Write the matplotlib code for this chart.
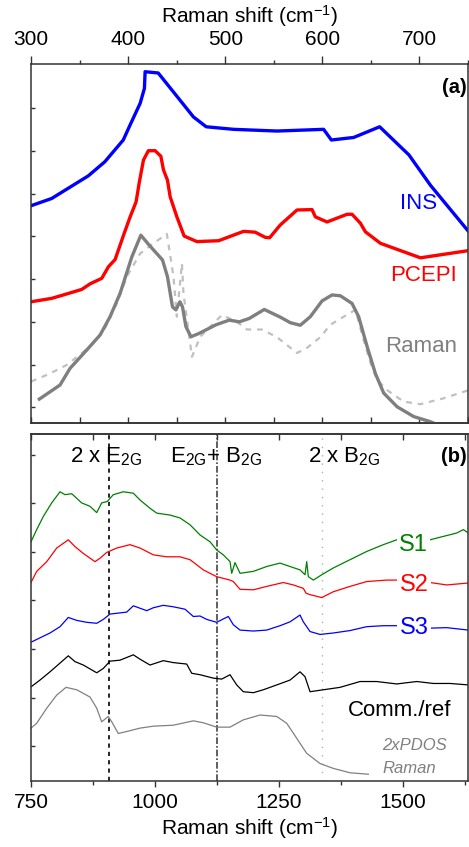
import matplotlib
matplotlib.use("Agg")
import matplotlib.pyplot as plt
import numpy as np

plt.rcParams.update({
    "font.family": ["Liberation Sans", "DejaVu Sans"],
    "mathtext.fontset": "custom",
    "mathtext.rm": "Liberation Sans",
    "mathtext.it": "Liberation Sans:italic",
    "mathtext.bf": "Liberation Sans:bold",
    "mathtext.default": "regular",
})

# ---------------- panel (a): low-frequency spectra (offset, arb. units) ----------------
ins_x = [300, 321.3, 359, 376, 395, 402, 412.4, 416.8, 417.5, 431, 467.3, 480.4,
         508.6, 553.3, 601.3, 609.3, 632.3, 659, 689.2, 711.3, 750.8]
ins_y = [5.09, 5.26, 5.79, 6.12, 6.63, 6.98, 7.49, 7.84, 8.23, 8.20, 7.17, 6.94,
         6.88, 6.84, 6.88, 6.63, 6.69, 6.94, 6.28, 5.57, 4.48]

pcepi_x = [300, 321.3, 333.3, 352.3, 360.8, 372.9, 379.7, 386.6, 395.9, 402.1, 408.2,
           411.6, 415.8, 420.9, 427.8, 433.7, 436.4, 440.5, 443.3, 450.2, 457.7, 470.8,
           493.1, 518.9, 530.9, 541.2, 545.7, 556.7, 573.9, 589.4, 592.8, 604.8, 625.5,
           630.6, 639.2, 644.3, 659.8, 701, 750.8]
pcepi_y = [2.84, 2.92, 3.00, 3.13, 3.26, 3.39, 3.66, 3.83, 4.44, 4.83, 5.18,
           5.65, 6.16, 6.38, 6.38, 6.25, 5.93, 5.69, 5.30, 4.83, 4.38, 4.25,
           4.27, 4.49, 4.47, 4.35, 4.34, 4.64, 4.99, 5.00, 4.83, 4.71, 4.89,
           4.89, 4.68, 4.48, 4.21, 3.87, 4.04]

raman_x = [308.6, 319.6, 329.9, 340.2, 357.4, 371.1, 381.4, 391.8, 403.8, 413.1, 421.6,
           435.4, 440.5, 445.7, 449.2, 453.3, 456, 459.5, 464.7, 473.2, 490.4, 504.1,
           514.5, 524.8, 540.2, 556.7, 567, 577.3, 587.6, 599.7, 610, 618.6,
           630.6, 637.4, 646.1, 654.6, 663.2, 677, 694.1, 711.3, 714.4]
raman_y = [0.56, 0.73, 0.89, 1.28, 1.71, 2.06, 2.49, 3.04, 3.89, 4.40, 4.17,
           3.82, 3.43, 2.72, 2.65, 2.84, 2.72, 2.26, 2.02, 2.10, 2.30, 2.41,
           2.37, 2.45, 2.66, 2.48, 2.35, 2.29, 2.49, 2.86, 3.00, 2.98,
           2.80, 2.49, 1.79, 1.16, 0.70, 0.38, 0.15, 0.03, 0.0]

calc_x = [300, 319.6, 336.8, 360.8, 374.5, 388.4, 398.7, 412.4, 426.1, 439.9, 446.7,
          450.2, 455.4, 457, 465.7, 474.2, 496.6, 512, 522.4, 537.8, 553.3, 573.9, 584.2,
          597.9, 608.2, 622, 634, 642.6, 649.5, 656.4, 666.7, 683.8, 701, 725, 750.8]
calc_y = [0.97, 1.16, 1.36, 1.79, 2.14, 2.80, 3.43, 3.97, 4.21, 4.43, 3.43,
          2.49, 3.74, 3.04, 1.55, 2.02, 2.53, 2.37, 2.19, 2.19, 2.01, 1.64, 1.76,
          2.01, 2.30, 2.49, 2.65, 1.94, 1.41, 1.01, 0.77, 0.50, 0.44, 0.58, 0.77]

# ---------------- panel (b): second-order region ----------------
s1_x = [750, 761.5, 774.8, 791.7, 808.5, 818.5, 832.1, 852.2, 869, 882.5, 892.5, 903.8,
        915.9, 936.1, 956.3, 969.8, 989.9, 1003.4, 1030.2, 1050.4, 1070.6, 1090.7,
        1110.9, 1124.4, 1137.7, 1151.2, 1154.6, 1161.3, 1171.4, 1198.2, 1225.2, 1252,
        1272.2, 1292.3, 1302.4, 1305.8, 1309.1, 1319.2, 1336.1, 1359.5, 1393.1, 1426.8,
        1460.3, 1487.3, 1554.4, 1581.3, 1608.3, 1621.6, 1631.7]
s1_y = [4.93, 5.18, 5.45, 5.73, 5.96, 5.90, 5.92, 5.73, 5.66, 5.53, 5.73, 5.76,
        5.90, 5.96, 5.93, 5.79, 5.62, 5.52, 5.48, 5.42, 5.28, 5.07,
        4.93, 4.76, 4.66, 4.52, 4.28, 4.50, 4.28, 4.32, 4.42, 4.49,
        4.42, 4.35, 4.25, 4.52, 4.21, 4.14, 4.25, 4.39, 4.56, 4.73,
        4.87, 4.97, 4.97, 5.04, 5.11, 5.18, 5.11]

s2_x = [750, 761.5, 781.7, 801.8, 825.2, 838.7, 855.4, 879, 889.1, 902.6, 922.8, 949.6,
        969.8, 996.6, 1023.6, 1050.4, 1070.6, 1097.4, 1124.4, 1151.2, 1157.9, 1171.4,
        1198.2, 1225.2, 1258.7, 1278.8, 1299, 1304.4, 1312.5, 1336.1, 1359.5, 1393.1,
        1426.8, 1467.1, 1490.5, 1554.4, 1588.1, 1631.7]
s2_y = [4.09, 4.32, 4.52, 4.80, 4.97, 4.83, 4.69, 4.52, 4.59, 4.71, 4.80, 4.87,
        4.80, 4.66, 4.62, 4.62, 4.56, 4.35, 4.21, 4.14, 4.11, 3.95,
        3.94, 4.01, 4.09, 4.04, 3.97, 3.87, 3.84, 3.78, 3.90, 4.01,
        4.11, 4.14, 4.14, 4.09, 4.04, 4.08]

s3_x = [750, 788.3, 808.5, 825.2, 842.1, 862.3, 882.5, 895.8, 909.3, 942.9, 956.3, 969.8,
        983.3, 996.6, 1016.7, 1036.9, 1060.5, 1077.2, 1090.7, 1104.2, 1124.4, 1137.7,
        1147.8, 1157.9, 1171.4, 1198.2, 1225.2, 1252, 1272.2, 1292.3, 1299, 1312.5,
        1332.7, 1359.5, 1393.1, 1426.8, 1460.3, 1490.5, 1554.4, 1588.1, 1631.7]
s3_y = [2.86, 3.05, 3.18, 3.37, 3.31, 3.27, 3.25, 3.33, 3.44, 3.48, 3.61, 3.56,
        3.51, 3.57, 3.62, 3.59, 3.54, 3.39, 3.40, 3.33, 3.27, 3.34,
        3.39, 3.22, 3.11, 3.09, 3.11, 3.20, 3.28, 3.42, 3.28, 3.08,
        3.02, 3.05, 3.10, 3.18, 3.20, 3.20, 3.15, 3.16, 3.11]

ref_x = [750, 768.1, 788.3, 808.5, 825.2, 838.7, 855.4, 882.5, 895.8, 909.3, 929.4, 956.3,
         969.8, 989.9, 1016.7, 1036.9, 1063.9, 1074, 1090.7, 1117.5, 1134.5, 1151.2,
         1164.7, 1178, 1198.2, 1218.3, 1245.4, 1272.2, 1292.3, 1302.4, 1312.5, 1339.3,
         1373, 1413.3, 1446.9, 1487.3, 1527.6, 1561.1, 1594.8, 1631.7]
ref_y = [1.94, 2.08, 2.25, 2.43, 2.58, 2.46, 2.39, 2.23, 2.32, 2.47, 2.49, 2.60,
         2.51, 2.39, 2.48, 2.44, 2.41, 2.22, 2.19, 2.12, 2.10, 2.19,
         1.98, 1.84, 1.82, 1.88, 1.98, 2.08, 2.25, 2.15, 1.84, 1.88,
         1.93, 2.05, 2.05, 2.00, 2.05, 2.01, 2.01, 1.98]

pdos_x = [750, 761.5, 781.7, 801.8, 820.6, 842.1, 869, 882.5, 892.5, 905.8, 912.7, 926,
          942.9, 969.8, 996.6, 1036.9, 1077.2, 1097.4, 1124.4, 1151.2, 1178, 1211.7,
          1245.4, 1265.5, 1285.7, 1305.8, 1332.7, 1359.5, 1393.1, 1430]
pdos_y = [1.09, 1.19, 1.50, 1.77, 1.93, 1.88, 1.73, 1.50, 1.22, 1.33, 1.22, 0.98,
          1.02, 1.09, 1.13, 1.15, 1.24, 1.20, 1.11, 1.11, 1.26, 1.36,
          1.33, 1.19, 0.88, 0.57, 0.36, 0.26, 0.17, 0.14]

# band assignments (cm^-1)
mode_2e2g = 907
mode_e2g_b2g = 1125
mode_2b2g = 1336

# ---------------- figure ----------------
spine_col = "#333333"
fig = plt.figure(figsize=(4.69, 8.47), dpi=100)
ax_a = fig.add_axes([0.0661, 0.5006, 0.9318, 0.4238])
ax_b = fig.add_axes([0.0661, 0.0779, 0.9318, 0.4097])

for ax in (ax_a, ax_b):
    for sp in ax.spines.values():
        sp.set_color(spine_col)
        sp.set_linewidth(1.1)
    ax.tick_params(axis="y", direction="in", length=3, width=1, colors=spine_col,
                   labelleft=False)

# panel (a)
ax_a.plot(ins_x, ins_y, color="#0000ff", lw=2.4, solid_joinstyle="round")
ax_a.plot(pcepi_x, pcepi_y, color="#ff0000", lw=2.4, solid_joinstyle="round")
ax_a.plot(calc_x, calc_y, color="#c0c0c0", lw=1.6, ls=(0, (2.6, 2.6)))
ax_a.plot(raman_x, raman_y, color="#7f7f7f", lw=2.4, solid_joinstyle="round")

ax_a.set_xlim(300, 750)
ax_a.set_ylim(0, 8.41)
ax_a.set_yticks(np.arange(0.37, 8.0, 1.0))
ax_a.xaxis.tick_top()
ax_a.xaxis.set_label_position("top")
ax_a.set_xticks([300, 400, 500, 600, 700])
ax_a.set_xticks(np.arange(350, 751, 100), minor=True)
ax_a.tick_params(axis="x", which="major", direction="out", length=6, width=1,
                 color=spine_col, labelsize=15, pad=5)
ax_a.tick_params(axis="x", which="minor", direction="out", length=3, width=1,
                 color=spine_col)
ax_a.set_xlabel(r"Raman shift (cm$^{-1}$)", fontsize=15, labelpad=5)

sec_a = ax_a.secondary_xaxis("bottom")
sec_a.set_xticks(np.arange(300, 751, 50))
sec_a.tick_params(direction="in", length=4, width=1, color=spine_col,
                  labelbottom=False)
sec_a.spines["bottom"].set_color(spine_col)
sec_a.spines["bottom"].set_linewidth(1.1)

ax_a.text(749, 7.87, "(a)", ha="right", va="center", fontsize=14.5, fontweight="bold")
ax_a.text(699, 5.14, "INS", ha="center", va="center", fontsize=16, color="#0000ff")
ax_a.text(704, 3.45, "PCEPI", ha="center", va="center", fontsize=16, color="#ff0000")
ax_a.text(702, 1.79, "Raman", ha="center", va="center", fontsize=16, color="#808080")

# panel (b)
ax_b.axvline(mode_2e2g, color="black", lw=1.2, ls=(0, (2.5, 2.5)), zorder=1)
ax_b.axvline(mode_e2g_b2g, color="#444444", lw=1.2, ls=(0, (4, 1.2, 1, 1.2)), zorder=1)
ax_b.axvline(mode_2b2g, color="#b0b0b0", lw=1.0, ls=(0, (1, 5)), zorder=1)

ax_b.plot(s1_x, s1_y, color="#008000", lw=0.9)
ax_b.plot(s2_x, s2_y, color="#ff0000", lw=0.9)
ax_b.plot(s3_x, s3_y, color="#0000ff", lw=0.9)
ax_b.plot(ref_x, ref_y, color="black", lw=0.9)
ax_b.plot(pdos_x, pdos_y, color="#808080", lw=0.9)

ax_b.set_xlim(750, 1631)
ax_b.set_ylim(0, 7.15)
ax_b.set_yticks(np.arange(0.72, 7.0, 1.0))
ax_b.set_xticks([750, 1000, 1250, 1500])
ax_b.set_xticks([875, 1125, 1375, 1625], minor=True)
ax_b.tick_params(axis="x", which="major", direction="out", length=4.5, width=1,
                 color=spine_col, labelsize=15, pad=4)
ax_b.tick_params(axis="x", which="minor", direction="out", length=3, width=1,
                 color=spine_col)
ax_b.set_xlabel(r"Raman shift (cm$^{-1}$)", fontsize=15, labelpad=2)

sec_b = ax_b.secondary_xaxis("top")
sec_b.set_xticks(np.arange(750, 1631, 125))
sec_b.tick_params(direction="in", length=4, width=1, color=spine_col,
                  labeltop=False)
sec_b.spines["top"].set_color(spine_col)
sec_b.spines["top"].set_linewidth(1.1)

white = dict(facecolor="white", edgecolor="none", pad=1.5)
ax_b.text(828.6, 6.69, r"2 x E$_{2G}$", ha="left", va="center", fontsize=16)
ax_b.text(1030, 6.69, r"E$_{2G}$+ B$_{2G}$", ha="left", va="center", fontsize=16)
ax_b.text(1308, 6.69, r"2 x B$_{2G}$", ha="left", va="center", fontsize=16)
ax_b.text(1629, 6.69, "(b)", ha="right", va="center", fontsize=14.5, fontweight="bold")
ax_b.text(1521, 4.87, "S1", ha="center", va="center", fontsize=17, color="#008000", bbox=white)
ax_b.text(1522, 4.04, "S2", ha="center", va="center", fontsize=17, color="#ff0000", bbox=white)
ax_b.text(1522, 3.15, "S3", ha="center", va="center", fontsize=17, color="#0000ff", bbox=white)
ax_b.text(1493, 1.45, "Comm./ref", ha="center", va="center", fontsize=16, color="black")
ax_b.text(1524, 0.74, "2xPDOS", ha="center", va="center", fontsize=12, color="#808080",
          style="italic")
ax_b.text(1512, 0.26, "Raman", ha="center", va="center", fontsize=12, color="#808080",
          style="italic")

fig.savefig("out.png", dpi=100)
